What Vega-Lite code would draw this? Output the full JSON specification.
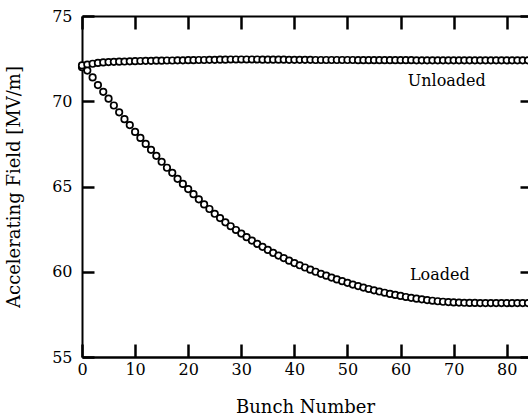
{
  "$schema": "https://vega.github.io/schema/vega-lite/v6.json",
  "autosize": "none",
  "width": 446,
  "height": 341,
  "padding": {"left": 82, "top": 16, "right": 0, "bottom": 62},
  "background": "white",
  "config": {
    "view": {"stroke": null, "fill": null},
    "axis": {
      "labelFont": "DejaVu Serif",
      "titleFont": "DejaVu Serif",
      "labelFontSize": 16,
      "titleFontSize": 18,
      "titleFontWeight": "normal",
      "labelColor": "black",
      "titleColor": "black",
      "domainColor": "black",
      "tickColor": "black",
      "zindex": 1,
      "grid": false
    }
  },
  "datasets": {
    "fields": [
      {"bunch": 0, "unloaded": 72.0, "loaded": 72.1},
      {"bunch": 1, "unloaded": 72.15, "loaded": 71.8},
      {"bunch": 2, "unloaded": 72.2, "loaded": 71.4},
      {"bunch": 3, "unloaded": 72.25, "loaded": 70.95},
      {"bunch": 4, "unloaded": 72.28, "loaded": 70.55},
      {"bunch": 5, "unloaded": 72.3, "loaded": 70.15},
      {"bunch": 6, "unloaded": 72.31, "loaded": 69.75},
      {"bunch": 7, "unloaded": 72.32, "loaded": 69.35},
      {"bunch": 8, "unloaded": 72.33, "loaded": 68.95},
      {"bunch": 9, "unloaded": 72.34, "loaded": 68.6},
      {"bunch": 10, "unloaded": 72.35, "loaded": 68.2},
      {"bunch": 11, "unloaded": 72.36, "loaded": 67.85},
      {"bunch": 12, "unloaded": 72.37, "loaded": 67.5},
      {"bunch": 13, "unloaded": 72.37, "loaded": 67.15},
      {"bunch": 14, "unloaded": 72.38, "loaded": 66.8},
      {"bunch": 15, "unloaded": 72.38, "loaded": 66.45},
      {"bunch": 16, "unloaded": 72.39, "loaded": 66.1},
      {"bunch": 17, "unloaded": 72.39, "loaded": 65.8},
      {"bunch": 18, "unloaded": 72.4, "loaded": 65.45},
      {"bunch": 19, "unloaded": 72.4, "loaded": 65.15},
      {"bunch": 20, "unloaded": 72.41, "loaded": 64.85},
      {"bunch": 21, "unloaded": 72.41, "loaded": 64.55},
      {"bunch": 22, "unloaded": 72.42, "loaded": 64.25},
      {"bunch": 23, "unloaded": 72.42, "loaded": 63.95},
      {"bunch": 24, "unloaded": 72.43, "loaded": 63.68},
      {"bunch": 25, "unloaded": 72.43, "loaded": 63.4},
      {"bunch": 26, "unloaded": 72.44, "loaded": 63.15},
      {"bunch": 27, "unloaded": 72.44, "loaded": 62.9},
      {"bunch": 28, "unloaded": 72.45, "loaded": 62.67},
      {"bunch": 29, "unloaded": 72.45, "loaded": 62.45},
      {"bunch": 30, "unloaded": 72.45, "loaded": 62.24},
      {"bunch": 31, "unloaded": 72.45, "loaded": 62.03},
      {"bunch": 32, "unloaded": 72.45, "loaded": 61.83},
      {"bunch": 33, "unloaded": 72.45, "loaded": 61.64},
      {"bunch": 34, "unloaded": 72.44, "loaded": 61.46},
      {"bunch": 35, "unloaded": 72.44, "loaded": 61.28},
      {"bunch": 36, "unloaded": 72.44, "loaded": 61.11},
      {"bunch": 37, "unloaded": 72.44, "loaded": 60.95},
      {"bunch": 38, "unloaded": 72.44, "loaded": 60.8},
      {"bunch": 39, "unloaded": 72.43, "loaded": 60.65},
      {"bunch": 40, "unloaded": 72.43, "loaded": 60.51},
      {"bunch": 41, "unloaded": 72.43, "loaded": 60.38},
      {"bunch": 42, "unloaded": 72.43, "loaded": 60.25},
      {"bunch": 43, "unloaded": 72.43, "loaded": 60.12},
      {"bunch": 44, "unloaded": 72.42, "loaded": 60.0},
      {"bunch": 45, "unloaded": 72.42, "loaded": 59.88},
      {"bunch": 46, "unloaded": 72.42, "loaded": 59.77},
      {"bunch": 47, "unloaded": 72.42, "loaded": 59.66},
      {"bunch": 48, "unloaded": 72.42, "loaded": 59.55},
      {"bunch": 49, "unloaded": 72.42, "loaded": 59.45},
      {"bunch": 50, "unloaded": 72.42, "loaded": 59.35},
      {"bunch": 51, "unloaded": 72.42, "loaded": 59.25},
      {"bunch": 52, "unloaded": 72.41, "loaded": 59.16},
      {"bunch": 53, "unloaded": 72.41, "loaded": 59.07},
      {"bunch": 54, "unloaded": 72.41, "loaded": 58.99},
      {"bunch": 55, "unloaded": 72.41, "loaded": 58.91},
      {"bunch": 56, "unloaded": 72.41, "loaded": 58.84},
      {"bunch": 57, "unloaded": 72.41, "loaded": 58.77},
      {"bunch": 58, "unloaded": 72.41, "loaded": 58.7},
      {"bunch": 59, "unloaded": 72.41, "loaded": 58.64},
      {"bunch": 60, "unloaded": 72.41, "loaded": 58.58},
      {"bunch": 61, "unloaded": 72.41, "loaded": 58.52},
      {"bunch": 62, "unloaded": 72.41, "loaded": 58.47},
      {"bunch": 63, "unloaded": 72.4, "loaded": 58.42},
      {"bunch": 64, "unloaded": 72.4, "loaded": 58.38},
      {"bunch": 65, "unloaded": 72.4, "loaded": 58.34},
      {"bunch": 66, "unloaded": 72.4, "loaded": 58.3},
      {"bunch": 67, "unloaded": 72.4, "loaded": 58.27},
      {"bunch": 68, "unloaded": 72.4, "loaded": 58.24},
      {"bunch": 69, "unloaded": 72.4, "loaded": 58.22},
      {"bunch": 70, "unloaded": 72.4, "loaded": 58.2},
      {"bunch": 71, "unloaded": 72.4, "loaded": 58.19},
      {"bunch": 72, "unloaded": 72.4, "loaded": 58.18},
      {"bunch": 73, "unloaded": 72.4, "loaded": 58.17},
      {"bunch": 74, "unloaded": 72.4, "loaded": 58.17},
      {"bunch": 75, "unloaded": 72.4, "loaded": 58.16},
      {"bunch": 76, "unloaded": 72.4, "loaded": 58.16},
      {"bunch": 77, "unloaded": 72.4, "loaded": 58.16},
      {"bunch": 78, "unloaded": 72.4, "loaded": 58.16},
      {"bunch": 79, "unloaded": 72.4, "loaded": 58.16},
      {"bunch": 80, "unloaded": 72.4, "loaded": 58.16},
      {"bunch": 81, "unloaded": 72.4, "loaded": 58.16},
      {"bunch": 82, "unloaded": 72.4, "loaded": 58.16},
      {"bunch": 83, "unloaded": 72.4, "loaded": 58.16},
      {"bunch": 84, "unloaded": 72.4, "loaded": 58.16}
    ],
    "labels": [
      {"label": "Unloaded", "bunch": 68.7, "field": 71.2},
      {"label": "Loaded", "bunch": 67.4, "field": 59.8}
    ]
  },
  "data": {"name": "fields"},
  "transform": [
    {"fold": ["unloaded", "loaded"], "as": ["state", "value"]}
  ],
  "layer": [
    {
      "mark": {"type": "point", "shape": "circle", "size": 42, "filled": false, "stroke": "black", "strokeWidth": 1.7, "fill": "white", "fillOpacity": 1, "opacity": 1},
      "encoding": {
        "x": {
          "field": "bunch", "type": "quantitative",
          "scale": {"domain": [0, 84], "nice": false, "zero": false},
          "axis": {"orient": "bottom", "title": "Bunch Number", "values": [0, 10, 20, 30, 40, 50, 60, 70, 80], "labelFlush": false,
                   "tickSize": -13, "tickWidth": 2.5, "domainWidth": 2.5, "labelPadding": 17, "titlePadding": 21}
        },
        "y": {
          "field": "value", "type": "quantitative",
          "scale": {"domain": [55, 75], "nice": false, "zero": false},
          "axis": {"orient": "left", "title": "Accelerating Field [MV/m]", "values": [55, 60, 65, 70, 75], "labelFlush": false,
                   "tickSize": -12, "tickWidth": 2.5, "domainWidth": 2, "labelPadding": 22, "titlePadding": 28}
        }
      }
    },
    {
      "mark": {"type": "point", "opacity": 0},
      "encoding": {
        "x": {
          "field": "bunch", "type": "quantitative",
          "scale": {"domain": [0, 84], "nice": false, "zero": false},
          "axis": {"orient": "top", "title": null, "labels": false, "values": [0, 10, 20, 30, 40, 50, 60, 70, 80],
                   "tickSize": -13, "tickWidth": 2.5, "domainWidth": 2}
        },
        "y": {
          "field": "value", "type": "quantitative",
          "scale": {"domain": [55, 75], "nice": false, "zero": false},
          "axis": {"orient": "right", "title": null, "labels": false, "domain": false, "values": [55, 60, 65, 70, 75],
                   "tickSize": -8, "tickWidth": 2.5}
        }
      }
    },
    {
      "data": {"name": "labels"},
      "mark": {"type": "text", "font": "DejaVu Serif", "fontSize": 16, "color": "black", "align": "center", "baseline": "middle"},
      "encoding": {
        "x": {"field": "bunch", "type": "quantitative", "axis": null},
        "y": {"field": "field", "type": "quantitative", "axis": null},
        "text": {"field": "label"}
      }
    }
  ],
  "resolve": {"axis": {"x": "independent", "y": "independent"}}
}
